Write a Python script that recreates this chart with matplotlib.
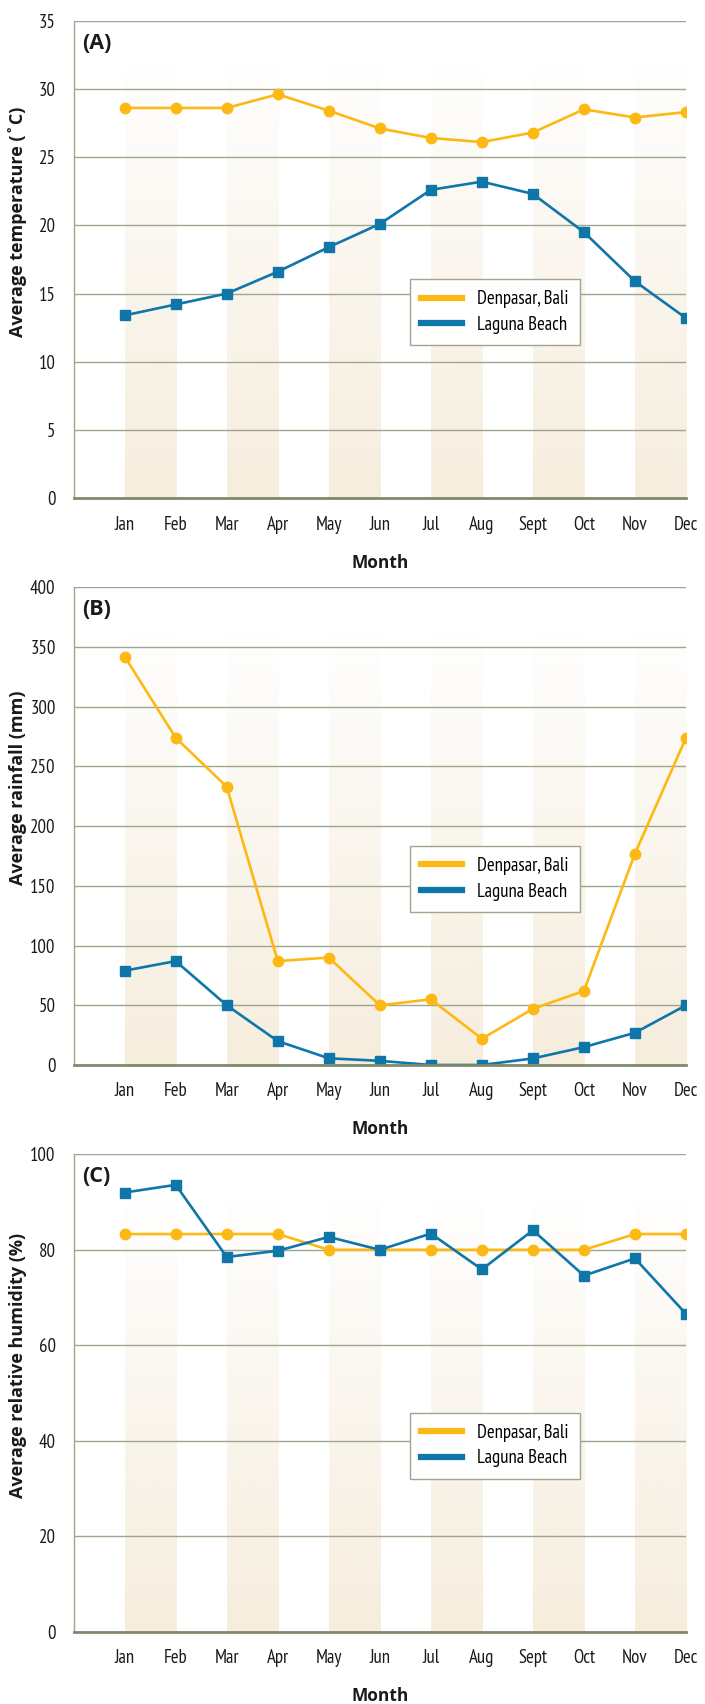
import numpy as np
import matplotlib
matplotlib.use("Agg")
import matplotlib.pyplot as plt
from matplotlib import font_manager

months = ["Jan", "Feb", "Mar", "Apr", "May", "Jun", "Jul", "Aug", "Sept", "Oct", "Nov", "Dec"]
series_names = ["Denpasar, Bali", "Laguna Beach"]

temp_bali = [28.6, 28.6, 28.6, 29.6, 28.4, 27.1, 26.4, 26.1, 26.8, 28.5, 27.9, 28.3]
temp_laguna = [13.4, 14.2, 15.0, 16.6, 18.4, 20.1, 22.6, 23.2, 22.3, 19.5, 15.9, 13.2]

rain_bali = [342, 274, 233, 87, 90, 50, 55, 22, 47, 62, 177, 274]
rain_laguna = [79, 87, 50, 20, 5.6, 3.5, 0, 0, 5.5, 15, 27, 50]

hum_bali = [83.3, 83.3, 83.3, 83.3, 80, 80, 80, 80, 80, 80, 83.3, 83.3]
hum_laguna = [92, 93.6, 78.5, 79.8, 82.7, 80, 83.4, 75.9, 84.1, 74.6, 78.2, 66.6]

panels = [
    ("(A)", "Average temperature (˚C)", temp_bali, temp_laguna, 35, 5, 0.578),
    ("(B)", "Average rainfall (mm)", rain_bali, rain_laguna, 400, 50, 0.58),
    ("(C)", "Average relative humidity (%)", hum_bali, hum_laguna, 100, 20, 0.557),
]

ORANGE = "#FDB913"
BLUE = "#0E76A8"
GRID = "#9ea68c"
SPINE = "#7f8a6c"
BAND = np.array([246, 237, 221]) / 255.0


def pick_font(prefs, weight=400):
    fonts = font_manager.fontManager.ttflist
    for name in prefs:
        if any(f.name == name and f.weight == weight and f.style == "normal" for f in fonts):
            return name
    return "DejaVu Sans"


tick_font = pick_font(["PT Sans Narrow", "Fira Sans Condensed", "Asap Condensed",
                       "Barlow Semi Condensed", "Lato"])
label_font = pick_font(["Open Sans", "Lato"], weight=700)

fig = plt.figure(figsize=(7.05, 17.04), dpi=100)
bottoms = [0.7076, 0.3750, 0.0423]
x = np.arange(1, 13)

# vertical gradient for the shaded month bands (strong at the bottom)
grad = np.zeros((200, 1, 4))
grad[:, 0, :3] = BAND
grad[:, 0, 3] = np.linspace(1.0, 0.03, 200)

for (tag, ylabel, bali, laguna, ymax, step, ylab_y), b in zip(panels, bottoms):
    ax = fig.add_axes([0.1045, b, 0.8685, 0.2803])
    band_top = ymax * 0.91
    for start in range(1, 12, 2):
        ax.imshow(grad, extent=(start, start + 1, 0, band_top), origin="lower",
                  aspect="auto", zorder=0.2, interpolation="bilinear")

    ax.plot(x, bali, "-o", color=ORANGE, lw=1.9, ms=7.5, zorder=3, label=series_names[0])
    ax.plot(x, laguna, "-s", color=BLUE, lw=1.9, ms=7.5, zorder=3, label=series_names[1])

    ax.set_xlim(0, 12)
    ax.set_ylim(0, ymax)
    ax.set_yticks(np.arange(0, ymax + step, step))
    ax.set_xticks(x)
    ax.set_xticklabels(months)
    ax.grid(axis="y", color=GRID, lw=1.0)
    ax.set_axisbelow(True)

    for side in ["top", "right"]:
        ax.spines[side].set_visible(False)
    ax.spines["left"].set_color(GRID)
    ax.spines["left"].set_linewidth(1.0)
    ax.spines["bottom"].set_color(SPINE)
    ax.spines["bottom"].set_linewidth(2.0)
    ax.spines["bottom"].set_zorder(4)

    ax.tick_params(axis="both", length=0, labelsize=13.5, colors="#1a1a1a")
    ax.tick_params(axis="y", pad=13)
    ax.tick_params(axis="x", pad=12.5)
    for t in ax.get_xticklabels() + ax.get_yticklabels():
        t.set_family(tick_font)

    ax.set_xlabel("Month", family=label_font, fontweight="bold", fontsize=12.5,
                  labelpad=14.5, color="#1a1a1a")
    ax.set_ylabel(ylabel, family=label_font, fontweight="bold", fontsize=13,
                  color="#1a1a1a")
    ax.yaxis.set_label_coords(-0.076, ylab_y)

    ax.text(0.013, 0.953, tag, transform=ax.transAxes, ha="left", va="center",
            family=label_font, fontweight="bold", fontsize=15.5, color="#1a1a1a")

    leg = ax.legend(loc="upper left", bbox_to_anchor=(0.549, 0.459), borderaxespad=0,
                    fancybox=False, framealpha=1, edgecolor=GRID, handlelength=2.2,
                    handletextpad=0.8, borderpad=0.6, labelspacing=0.4,
                    prop={"family": tick_font, "size": 13.5})
    leg.get_frame().set_linewidth(1.0)
    leg.set_zorder(5)
    for line in leg.get_lines():
        line.set_linewidth(4.5)
        line.set_marker("")

fig.savefig("out.png", dpi=100)
